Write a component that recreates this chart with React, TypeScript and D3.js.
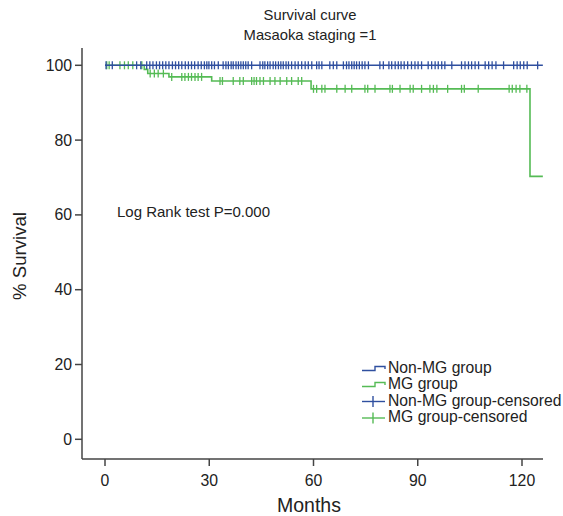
import * as d3 from "d3";

// Kaplan-Meier steps (months, % survival)
const nonMgTimes = [0];
const nonMgSurv = [100];
const mgTimes = [0, 11.3, 12.3, 18.4, 30.7, 59.3, 122.3];
const mgSurv = [100, 98.9, 97.8, 96.9, 95.8, 93.7, 70.3];
const followUpEnd = 126;

// censored observations (months)
const nonMgCensored = [
  0.3, 2.1, 9.1, 10.3, 12.0, 12.9, 13.8, 14.8, 15.7, 16.6, 17.5, 18.4, 19.4,
  20.3, 21.2, 22.1, 23.1, 24.0, 24.9, 25.8, 26.8, 27.7, 28.6, 29.3, 29.9, 30.7,
  31.5, 32.6, 34.0, 34.8, 35.5, 36.3, 36.9, 37.7, 38.4, 39.1, 39.8, 40.5, 41.2,
  42.2, 44.6, 45.4, 46.0, 46.8, 47.5, 48.4, 49.1, 49.9, 50.6, 51.3, 52.1, 52.8,
  53.7, 54.7, 55.6, 56.6, 57.6, 58.5, 59.5, 60.9, 61.6, 62.4, 64.7, 65.7, 66.7,
  68.6, 69.5, 70.2, 71.0, 71.7, 72.4, 73.2, 74.0, 74.8, 75.8, 79.1, 80.1, 81.7,
  82.5, 83.5, 84.4, 85.2, 86.1, 87.1, 88.2, 89.2, 90.1, 91.1, 93.0, 94.0, 95.0,
  95.9, 96.9, 97.8, 99.8, 102.6, 103.6, 104.6, 105.5, 106.5, 107.5, 109.4,
  110.4, 111.4, 112.5, 114.7, 117.6, 118.6, 119.5, 120.5, 121.5, 124.5,
];
const mgCensored = [
  0.5, 1.2, 4.3, 5.6, 6.7, 8.0, 10.6, 13.0, 14.2, 15.3, 16.8, 19.2, 22.1, 23.0,
  24.0, 24.9, 25.9, 26.8, 27.8, 33.1, 33.8, 36.9, 38.8, 39.8, 42.2, 42.9, 43.6,
  44.6, 45.6, 47.5, 48.9, 50.4, 52.3, 53.7, 55.6, 56.6, 60.0, 60.9, 62.4, 63.3,
  66.7, 69.1, 71.0, 74.8, 75.6, 77.7, 82.0, 82.7, 84.9, 87.8, 88.7, 91.1, 93.5,
  94.5, 95.5, 98.6, 102.6, 103.4, 107.4, 116.3, 117.2, 118.3, 119.4, 121.4,
];

const xTicks = [0, 30, 60, 90, 120];
const yTicks = [0, 20, 40, 60, 80, 100];
const legendItems = ["Non-MG group", "MG group", "Non-MG group-censored", "MG group-censored"];

const blue = "#2f4f9f";
const green = "#55bb55";
const font = "'Liberation Sans', Arial, Helvetica, sans-serif";

const x = d3.scaleLinear().domain([0, 120]).range([105, 522]);
const y = d3.scaleLinear().domain([0, 100]).range([439.3, 65.3]);

const survAt = (times: number[], surv: number[], t: number) => {
  let v = surv[0];
  times.forEach((tt, i) => {
    if (tt <= t) v = surv[i];
  });
  return v;
};

const stepPath = (times: number[], surv: number[]) => {
  const pts: [number, number][] = times.map((t, i) => [t, surv[i]]);
  pts.push([followUpEnd, surv[surv.length - 1]]);
  return d3
    .line<[number, number]>()
    .x((d) => x(d[0]))
    .y((d) => y(d[1]))
    .curve(d3.curveStepAfter)(pts) as string;
};

const App = () => {
  const axisX0 = 82;
  const axisX1 = 543;
  const axisY = 459;
  const axisTop = 48;

  const series = [
    { times: mgTimes, surv: mgSurv, cens: mgCensored, color: green },
    { times: nonMgTimes, surv: nonMgSurv, cens: nonMgCensored, color: blue },
  ];

  const legendColors = [blue, green, blue, green];
  const legendBase = [373, 389, 405.5, 422];

  return (
    <svg
      width={563}
      height={516}
      style={{ position: "absolute", left: 0, top: 0, background: "#fff" }}
      fontFamily={font}
    >
      <text x={310} y={20} textAnchor="middle" fontSize={14.8} fill="#222">
        Survival curve
      </text>
      <text x={310} y={40} textAnchor="middle" fontSize={14.8} fill="#222">
        Masaoka staging =1
      </text>

      {/* axes */}
      <line x1={axisX0} x2={axisX0} y1={axisTop} y2={axisY} stroke="#444" strokeWidth={1.5} />
      <line x1={axisX0} x2={axisX1} y1={axisY} y2={axisY} stroke="#444" strokeWidth={1.5} />
      {yTicks.map((t) => (
        <g key={"y" + t}>
          <line x1={axisX0 - 7} x2={axisX0} y1={y(t)} y2={y(t)} stroke="#444" strokeWidth={1.5} />
          <text x={axisX0 - 10} y={y(t) + 5.5} textAnchor="end" fontSize={15.8} fill="#222">
            {t}
          </text>
        </g>
      ))}
      {xTicks.map((t) => (
        <g key={"x" + t}>
          <line x1={x(t)} x2={x(t)} y1={axisY} y2={axisY + 7} stroke="#444" strokeWidth={1.5} />
          <text x={x(t)} y={axisY + 27} textAnchor="middle" fontSize={15.8} fill="#222">
            {t}
          </text>
        </g>
      ))}
      <text x={309} y={512} textAnchor="middle" fontSize={19.5} fill="#222">
        Months
      </text>
      <text
        transform={`translate(26,256) rotate(-90)`}
        textAnchor="middle"
        fontSize={18.6}
        fill="#222"
      >
        % Survival
      </text>

      <text x={117} y={217} fontSize={15} fill="#222">
        Log Rank test P=0.000
      </text>

      {/* curves */}
      {series.map((s, i) => (
        <g key={"s" + i}>
          <path d={stepPath(s.times, s.surv)} fill="none" stroke={s.color} strokeWidth={1.6} />
          {s.cens.map((c, j) => {
            const cx = x(c);
            const cy = y(survAt(s.times, s.surv, c));
            return (
              <line key={j} x1={cx} x2={cx} y1={cy - 4} y2={cy + 4} stroke={s.color} strokeWidth={1.3} />
            );
          })}
        </g>
      ))}

      {/* legend */}
      {legendItems.map((label, i) => {
        const b = legendBase[i];
        const c = legendColors[i];
        const mid = b - 4;
        return (
          <g key={label}>
            {i < 2 ? (
              <path
                d={`M362,${mid + 1.5}H375V${mid - 2.5}H385V${mid}`}
                fill="none"
                stroke={c}
                strokeWidth={1.4}
              />
            ) : (
              <g stroke={c} strokeWidth={1.4}>
                <line x1={362} x2={385} y1={mid} y2={mid} />
                <line x1={373} x2={373} y1={mid - 5.5} y2={mid + 5.5} />
              </g>
            )}
            <text x={388} y={b} fontSize={15.7} fill="#222">
              {label}
            </text>
          </g>
        );
      })}
    </svg>
  );
};

export default App;
